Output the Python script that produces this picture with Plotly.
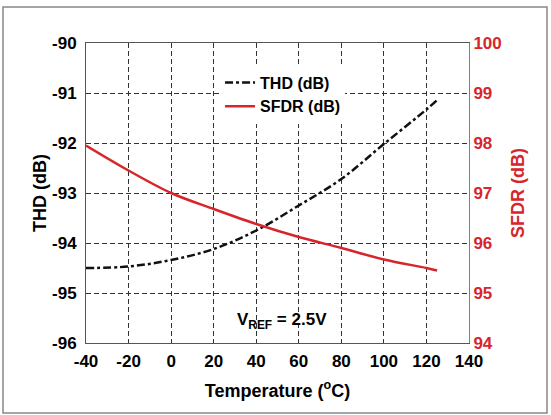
import plotly.graph_objects as go

temps = [-40, -20, 0, 20, 40, 60, 80, 100, 120, 125]
thd = [-94.5, -94.47, -94.34, -94.12, -93.75, -93.25, -92.72, -92.02, -91.33, -91.14]
sfdr = [97.95, 97.45, 97.0, 96.68, 96.38, 96.12, 95.9, 95.67, 95.5, 95.45]

x_ticks = [-40, -20, 0, 20, 40, 60, 80, 100, 120, 140]
thd_ticks = [-96, -95, -94, -93, -92, -91, -90]
sfdr_ticks = [94, 95, 96, 97, 98, 99, 100]

RED = "#d7262b"
FONT = "Liberation Sans"
TICK = 17
TITLE = 18

fig = go.Figure()
fig.add_trace(go.Scatter(x=temps, y=thd, name="THD (dB)", mode="lines",
                         line=dict(color="#111111", width=2.5, dash="8px,3px,3px,3px", shape="spline")))
fig.add_trace(go.Scatter(x=temps, y=sfdr, name="SFDR (dB)", mode="lines", yaxis="y2",
                         line=dict(color=RED, width=2.5, shape="spline")))

grid = dict(showgrid=True, gridcolor="#333333", griddash="5px,3px", gridwidth=1)

fig.update_layout(
    width=551, height=415,
    margin=dict(l=86, r=82, t=43, b=72),
    paper_bgcolor="white", plot_bgcolor="white",
    font=dict(family=FONT, size=13, color="black"),
    showlegend=True,
    legend=dict(x=0.35, y=0.925, xanchor="left", yanchor="top",
                bgcolor="white", borderwidth=0,
                font=dict(family=FONT, size=16, color="black", weight="bold"),
                tracegroupgap=0, itemwidth=30),
    xaxis=dict(range=[-40, 140], tickvals=x_ticks, ticktext=[str(v) for v in x_ticks],
               ticks="", zeroline=False, ticklabelstandoff=3,
               showline=True, linecolor="#555555", linewidth=1, mirror=True,
               tickfont=dict(family=FONT, size=TICK, color="black", weight="bold"),
               title=dict(text="Temperature (<sup>o</sup>C)", standoff=13,
                          font=dict(family=FONT, size=TITLE, color="black", weight="bold")),
               **grid),
    yaxis=dict(range=[-96, -90], tickvals=thd_ticks, ticktext=[str(v) for v in thd_ticks],
               ticks="", zeroline=False, ticklabelstandoff=5,
               showline=True, linecolor="#555555", linewidth=1,
               tickfont=dict(family=FONT, size=TICK, color="black", weight="bold"),
               title=dict(text="THD (dB)", standoff=0,
                          font=dict(family=FONT, size=TITLE, color="black", weight="bold")),
               **grid),
    yaxis2=dict(range=[94, 100], tickvals=sfdr_ticks, ticktext=[str(v) for v in sfdr_ticks],
                ticks="", zeroline=False, ticklabelstandoff=0,
                overlaying="y", side="right", showgrid=False,
                showline=True, linecolor="#c96060", linewidth=1,
                tickfont=dict(family=FONT, size=TICK, color=RED, weight="bold"),
                title=dict(text="SFDR (dB)", standoff=10,
                           font=dict(family=FONT, size=TITLE, color=RED, weight="bold"))),
    annotations=[dict(x=52, y=-95.55, xref="x", yref="y", showarrow=False,
                      text="V<sub>REF</sub> = 2.5V",
                      font=dict(family=FONT, size=17, color="black", weight="bold"))],
    shapes=[dict(type="rect", xref="paper", yref="paper",
                 x0=-83 / 383, x1=1 + 78 / 383, y0=-70 / 300, y1=1 + 36 / 300,
                 line=dict(color="#888888", width=1.5), layer="below")],
)

fig.write_html("out.html", config={"displayModeBar": False},
               post_script="document.body.style.margin='0';")
